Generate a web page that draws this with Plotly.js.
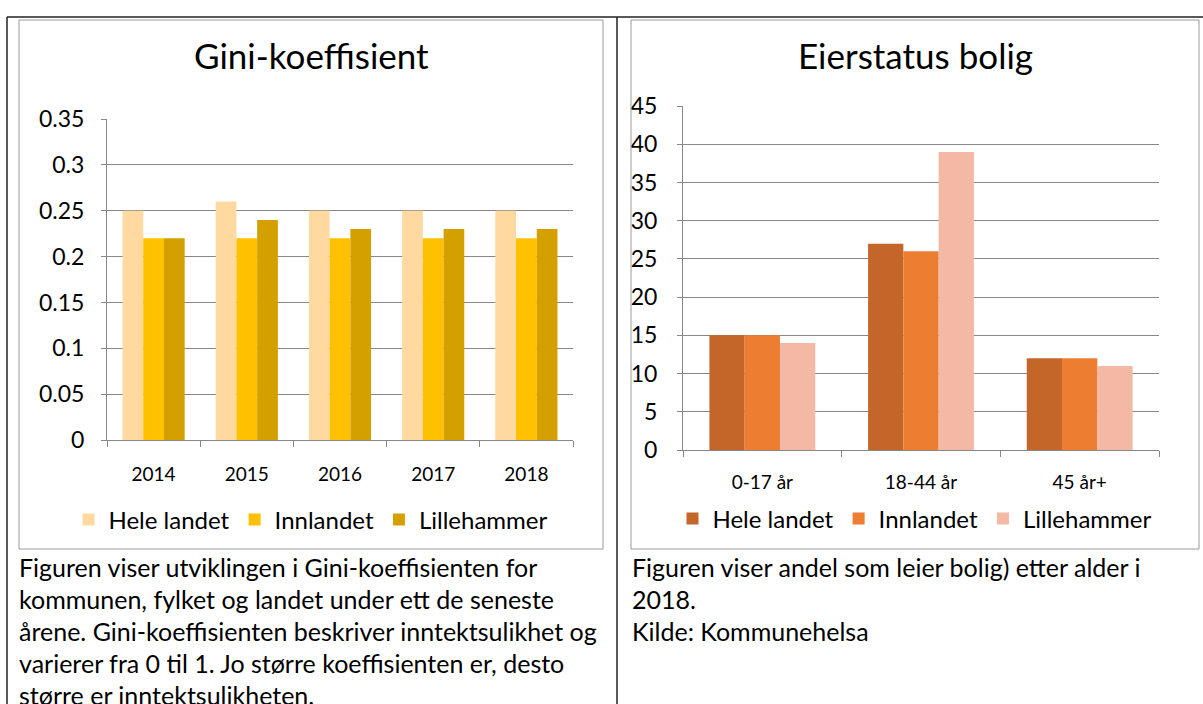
<!DOCTYPE html>
<html><head><meta charset="utf-8">
<script src="https://cdn.plot.ly/plotly-3.0.1.min.js"></script>
<style>html,body{margin:0;padding:0;background:#fff;} #chart{width:1203px;height:704px;}</style>
</head><body><div id="chart"></div>
<script>
// ---- data ----
const seriesNames = ['Hele landet', 'Innlandet', 'Lillehammer'];
const giniYears = ['2014', '2015', '2016', '2017', '2018'];
const giniHeleLandet = [0.25, 0.26, 0.25, 0.25, 0.25];
const giniInnlandet = [0.22, 0.22, 0.22, 0.22, 0.22];
const giniLillehammer = [0.22, 0.24, 0.23, 0.23, 0.23];
const giniTickVals = [0, 0.05, 0.1, 0.15, 0.2, 0.25, 0.3, 0.35];
const giniTickText = ['0', '0.05', '0.1', '0.15', '0.2', '0.25', '0.3', '0.35'];

const ageGroups = ['0-17 år', '18-44 år', '45 år+'];
const eierHeleLandet = [15, 27, 12];
const eierInnlandet = [15, 26, 12];
const eierLillehammer = [14, 39, 11];
const eierTickVals = [0, 5, 10, 15, 20, 25, 30, 35, 40, 45];

const giniTitle = 'Gini-koeffisient';
const eierTitle = 'Eierstatus bolig';
const leftCaption = [
  'Figuren viser utviklingen i Gini-koeffisienten for',
  'kommunen, fylket og landet under ett de seneste',
  'årene. Gini-koeffisienten beskriver inntektsulikhet og',
  'varierer fra 0 til 1. Jo større koeffisienten er, desto',
  'større er inntektsulikheten.'
];
const rightCaption = [
  'Figuren viser andel som leier bolig) etter alder i',
  '2018.',
  'Kilde: Kommunehelsa'
];

// ---- styling ----
const W = 1203, H = 704;
const px = x => x / W, py = y => 1 - y / H;
const FONT = 'Lato, "Open Sans", sans-serif';
const giniColors = ['#FFD9A0', '#FFC000', '#D4A000'];
const eierColors = ['#C4652A', '#ED7D31', '#F4B9A5'];
const axisGray = '#878787';

const giniSeries = [giniHeleLandet, giniInnlandet, giniLillehammer];
const eierSeries = [eierHeleLandet, eierInnlandet, eierLillehammer];

const traces = [];
giniSeries.forEach((vals, i) => traces.push({
  type: 'bar', x: giniYears, y: vals, name: seriesNames[i],
  marker: {color: giniColors[i], line: {width: 0}},
  xaxis: 'x', yaxis: 'y', legend: 'legend', hoverinfo: 'x+y+name'
}));
eierSeries.forEach((vals, i) => traces.push({
  type: 'bar', x: ageGroups, y: vals, name: seriesNames[i],
  marker: {color: eierColors[i], line: {width: 0}},
  xaxis: 'x2', yaxis: 'y2', legend: 'legend2', hoverinfo: 'x+y+name'
}));

const xCommon = {
  type: 'category', showline: true, linecolor: axisGray, linewidth: 1,
  ticks: 'outside', tickson: 'boundaries', ticklen: 6, tickcolor: axisGray,
  showgrid: false, zeroline: false, fixedrange: true,
  tickfont: {family: FONT, size: 19, color: '#000'}
};
const yCommon = {
  showline: true, linecolor: axisGray, linewidth: 1,
  ticks: 'outside', ticklen: 5, tickcolor: axisGray,
  showgrid: true, gridcolor: axisGray, gridwidth: 1, zeroline: false, fixedrange: true,
  tickfont: {family: FONT, size: 23, color: '#000'}
};

const annotations = [
  {text: giniTitle, x: px(311), y: py(55), xref: 'paper', yref: 'paper', showarrow: false,
   xanchor: 'center', yanchor: 'middle', font: {family: FONT, size: 35, color: '#000'}},
  {text: eierTitle, x: px(915), y: py(55), xref: 'paper', yref: 'paper', showarrow: false,
   xanchor: 'center', yanchor: 'middle', font: {family: FONT, size: 35, color: '#000'}}
];
leftCaption.forEach((t, i) => annotations.push({
  text: t, x: px(17), y: py(567 + 32 * i), xref: 'paper', yref: 'paper', showarrow: false,
  xanchor: 'left', yanchor: 'middle', align: 'left', font: {family: FONT, size: 25, color: '#000'}
}));
rightCaption.forEach((t, i) => annotations.push({
  text: t, x: px(630), y: py(567 + 32 * i), xref: 'paper', yref: 'paper', showarrow: false,
  xanchor: 'left', yanchor: 'middle', align: 'left', font: {family: FONT, size: 25, color: '#000'}
}));

const line = (x0, y0, x1, y1, color, width) => ({
  type: 'line', xref: 'paper', yref: 'paper', x0: px(x0), y0: py(y0), x1: px(x1), y1: py(y1),
  line: {color: color, width: width}
});
const rect = (x0, y0, x1, y1, color, width) => ({
  type: 'rect', xref: 'paper', yref: 'paper', x0: px(x0), y0: py(y0), x1: px(x1), y1: py(y1),
  line: {color: color, width: width}, fillcolor: 'rgba(0,0,0,0)'
});
const shapes = [
  line(7, 17, 1203, 17, '#222', 1.5),
  line(7, 17, 7, 704, '#222', 1.5),
  line(617, 17, 617, 704, '#222', 1.5),
  rect(19, 20, 603, 549, '#9a9a9a', 1),
  rect(631, 20, 1199, 549, '#9a9a9a', 1)
];

const legendCommon = {
  orientation: 'h', xanchor: 'center', yanchor: 'middle', bgcolor: 'rgba(0,0,0,0)',
  font: {family: FONT, size: 24, color: '#000'}, traceorder: 'normal', itemclick: false, itemdoubleclick: false
};

const layout = {
  width: W, height: H, margin: {l: 0, r: 0, t: 0, b: 0},
  paper_bgcolor: '#fff', plot_bgcolor: 'rgba(0,0,0,0)',
  font: {family: FONT, color: '#000'},
  barmode: 'group', bargap: 0.333, bargroupgap: 0,
  showlegend: true,
  xaxis: Object.assign({}, xCommon, {domain: [px(107), px(573)], anchor: 'y', ticklabelstandoff: 17}),
  yaxis: Object.assign({}, yCommon, {domain: [py(440), py(119)], anchor: 'x', range: [0, 0.3501],
    tickvals: giniTickVals, ticktext: giniTickText, ticklabelstandoff: 12}),
  xaxis2: Object.assign({}, xCommon, {domain: [px(683), px(1159)], anchor: 'y2', ticklabelstandoff: 15}),
  yaxis2: Object.assign({}, yCommon, {domain: [py(450), py(106)], anchor: 'x2', range: [0, 45.01],
    tickvals: eierTickVals, ticklabelstandoff: 15}),
  legend: Object.assign({}, legendCommon, {x: px(311), y: py(520)}),
  legend2: Object.assign({}, legendCommon, {x: px(915), y: py(519)}),
  annotations: annotations,
  shapes: shapes
};

Plotly.newPlot('chart', traces, layout, {displayModeBar: false, staticPlot: false});
</script>
</body></html>
